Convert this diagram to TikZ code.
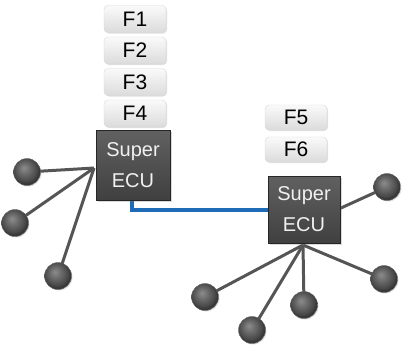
\documentclass[tikz,border=0pt]{standalone}
\usepackage{fontspec}
\setmainfont{Liberation Sans}
\usetikzlibrary{backgrounds,shadows}
\definecolor{linegray}{HTML}{555555}
\definecolor{busblue}{HTML}{1E6BB8}
\pgfdeclareradialshading{matteball}{\pgfpoint{-6bp}{8bp}}{%
 color(0bp)=(black!45); color(12bp)=(black!60); color(22bp)=(black!72); color(25bp)=(black!78); color(50bp)=(black!78)}
\begin{document}
\begin{tikzpicture}[x=1pt,y=-1pt,
 fbox/.style={rounded corners=4pt, minimum width=62pt, minimum height=27pt, top color=gray!4, bottom color=gray!28, draw=gray!30, font=\fontsize{21}{22}\selectfont, inner sep=0pt, drop shadow={shadow xshift=1pt, shadow yshift=-1pt, opacity=0.25}},
 ecu/.style={minimum width=74pt, minimum height=70pt, top color=black!62, bottom color=black!75, draw=black!85, text=white!88!gray, font=\fontsize{20}{31}\selectfont, align=center, inner sep=0pt, drop shadow={shadow xshift=1.5pt, shadow yshift=-1.5pt, opacity=0.3}},
 ball/.style={circle, minimum size=27pt, inner sep=0pt, shading=matteball, draw=black!60, drop shadow={shadow xshift=1pt, shadow yshift=-1pt, opacity=0.25}},
 link/.style={draw=linegray, line width=3pt},
 bus/.style={draw=busblue, line width=3.5pt}]
\useasboundingbox (0,0) rectangle (403,346);

% left cluster
\node[fbox] (f1) at (135,19) {F1};
\node[fbox] (f2) at (135,50.5) {F2};
\node[fbox] (f3) at (135,82) {F3};
\node[fbox] (f4) at (135,113.5) {F4};
\node[ecu] (ecuL) at (133,165) {Super\\ECU};
\coordinate (hubL) at (94,168);
\node[ball] (b1) at (27,172) {};
\node[ball] (b2) at (15,223) {};
\node[ball] (b3) at (58,276) {};

% right cluster
\node[fbox, minimum height=25pt] (f5) at (296,117.5) {F5};
\node[fbox, minimum height=25pt] (f6) at (296,149.5) {F6};
\node[ecu, minimum width=72pt, minimum height=67pt] (ecuR) at (304,209.5) {Super\\ECU};
\coordinate (hubR) at (303,245);
\coordinate (hubRr) at (330,213);
\node[ball] (b4) at (387,187) {};
\node[ball] (b5) at (205,297) {};
\node[ball] (b6) at (252,330) {};
\node[ball] (b7) at (304,305) {};
\node[ball] (b8) at (384,279) {};

\begin{pgfonlayer}{background}
 \draw[link] (hubL) -- (b1.center);
 \draw[link] (hubL) -- (b2.center);
 \draw[link] (hubL) -- (b3.center);
 \draw[link] (hubRr) -- (b4.center);
 \draw[link] (hubR) -- (b5.center);
 \draw[link] (hubR) -- (b6.center);
 \draw[link] (hubR) -- (b7.center);
 \draw[link] (hubR) -- (b8.center);
 \coordinate (busA) at (ecuL.south -| 132,0);
 \draw[bus] (busA) |- (ecuR.west |- 0,210);
\end{pgfonlayer}
\end{tikzpicture}
\end{document}
